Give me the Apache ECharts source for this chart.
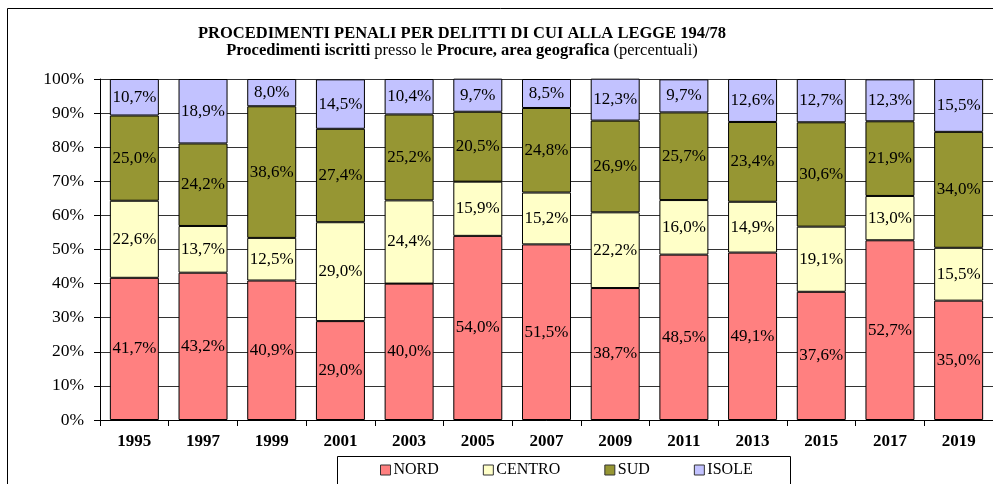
<!DOCTYPE html>
<html>
<head>
<meta charset="utf-8">
<script src="https://cdn.jsdelivr.net/npm/echarts@6/dist/echarts.min.js"></script>
<style>
  html, body { margin: 0; padding: 0; background: #fff; }
  #chart { width: 993px; height: 484px; }
</style>
</head>
<body>
<div id="chart"></div>
<script>
  var years = ['1995', '1997', '1999', '2001', '2003', '2005', '2007', '2009', '2011', '2013', '2015', '2017', '2019'];
  var nord   = [41.7, 43.2, 40.9, 29.0, 40.0, 54.0, 51.5, 38.7, 48.5, 49.1, 37.6, 52.7, 35.0];
  var centro = [22.6, 13.7, 12.5, 29.0, 24.4, 15.9, 15.2, 22.2, 16.0, 14.9, 19.1, 13.0, 15.5];
  var sud    = [25.0, 24.2, 38.6, 27.4, 25.2, 20.5, 24.8, 26.9, 25.7, 23.4, 30.6, 21.9, 34.0];
  var isole  = [10.7, 18.9, 8.0, 14.5, 10.4, 9.7, 8.5, 12.3, 9.7, 12.6, 12.7, 12.3, 15.5];

  var serif = '"Liberation Serif", "DejaVu Serif", serif';
  var names = ['NORD', 'CENTRO', 'SUD', 'ISOLE'];
  var values = [nord, centro, sud, isole];
  var colors = ['#FF8080', '#FFFFC8', '#969633', '#C2C2FF'];

  var myChart = echarts.init(document.getElementById('chart'));
  var seriesData = [];
  for (var i = 0; i < names.length; i++) {
    seriesData.push({
      name: names[i],
      type: 'bar',
      stack: 'tot',
      data: values[i],
      barWidth: 49,
      itemStyle: {
        color: colors[i],
        borderColor: '#000',
        borderWidth: 1
      },
      label: {
        show: true,
        position: 'inside',
        color: '#000',
        fontFamily: serif,
        fontSize: 17,
        formatter: function (p) {
          return p.value.toFixed(1).replace('.', ',') + '%';
        }
      }
    });
  }

  myChart.setOption({
    animation: false,
    title: [{
      text: 'PROCEDIMENTI PENALI PER DELITTI DI CUI ALLA LEGGE 194/78',
      left: 462,
      textAlign: 'center',
      top: 25,
      padding: 0,
      textStyle: { fontFamily: serif, fontSize: 16.5, fontWeight: 'bold', color: '#000' }
    }, {
      text: '{b|Procedimenti iscritti} presso le {b|Procure, area geografica} (percentuali)',
      left: 462,
      textAlign: 'center',
      top: 42,
      padding: 0,
      textStyle: {
        fontFamily: serif, fontSize: 16.5, fontWeight: 'normal', color: '#000',
        rich: { b: { fontFamily: serif, fontSize: 16.5, fontWeight: 'bold', color: '#000' } }
      }
    }],
    graphic: [{
      type: 'rect',
      shape: { x: 7.5, y: 8.5, width: 1000, height: 500 },
      style: { fill: 'none', stroke: '#000', lineWidth: 1 },
      z: -1
    }, {
      type: 'rect',
      shape: { x: 337.5, y: 456.5, width: 453, height: 40 },
      style: { fill: '#fff', stroke: '#000', lineWidth: 1 },
      z: 1
    }],
    legend: {
      data: names,
      left: 380,
      top: 462,
      padding: 0,
      itemWidth: 10,
      itemHeight: 10,
      itemGap: 44,
      icon: 'rect',
      z: 5,
      itemStyle: { borderColor: '#333', borderWidth: 1 },
      textStyle: { fontFamily: serif, fontSize: 16, color: '#000', padding: [0, 0, 0, -2] }
    },
    grid: {
      left: 100,
      top: 79,
      width: 897,
      height: 341
    },
    xAxis: {
      type: 'category',
      data: years,
      axisLine: { lineStyle: { color: '#000', width: 1 } },
      axisTick: { show: true, length: 6, lineStyle: { color: '#000' } },
      axisLabel: {
        color: '#000', fontFamily: serif, fontSize: 17, fontWeight: 'bold', margin: 13
      }
    },
    yAxis: {
      type: 'value',
      min: 0,
      max: 100,
      interval: 10,
      axisLine: { show: true, lineStyle: { color: '#000', width: 1 } },
      axisTick: { show: true, length: 6, lineStyle: { color: '#000' } },
      splitLine: { show: true, lineStyle: { color: '#333', width: 1 } },
      axisLabel: {
        color: '#000', fontFamily: serif, fontSize: 17.5, margin: 16,
        formatter: '{value}%'
      }
    },
    series: seriesData
  });
</script>
</body>
</html>
